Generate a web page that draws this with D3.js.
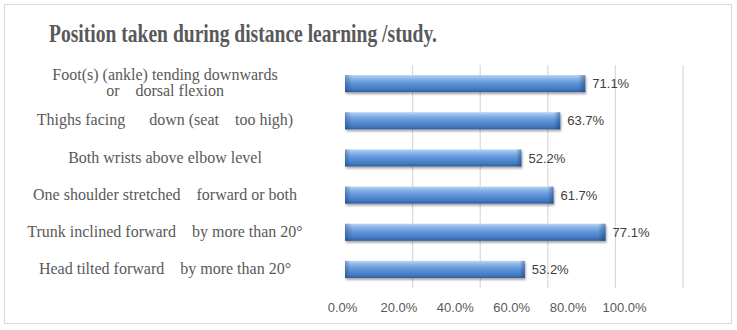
<!DOCTYPE html>
<html>
<head>
<meta charset="utf-8">
<script src="https://cdn.jsdelivr.net/npm/d3@7"></script>
<style>
  body { margin: 0; background: #fff; }
  svg { display: block; }
  .cat text { white-space: pre; }
</style>
</head>
<body>
<svg width="737" height="330"></svg>
<script>
// categories, top to bottom (second entry of a pair is the wrapped line)
const categories = [
  "Foot(s) (ankle) tending downwards\nor    dorsal flexion",
  "Thighs facing      down (seat    too high)",
  "Both wrists above elbow level",
  "One shoulder stretched    forward or both",
  "Trunk inclined forward    by more than 20°",
  "Head tilted forward    by more than 20°"
];
const values = [0.711, 0.637, 0.522, 0.617, 0.771, 0.532];
const tickValues = [0, 0.2, 0.4, 0.6, 0.8, 1.0];
const title = "Position taken during distance learning /study.";

const svg = d3.select("svg");
const fmt = d3.format(".1%");

// frame
svg.append("rect")
    .attr("x", 4.5).attr("y", 4.5)
    .attr("width", 727).attr("height", 319)
    .attr("fill", "#fff")
    .attr("stroke", "#d9d9d9");

// title
svg.append("text")
    .attr("x", 49).attr("y", 42)
    .attr("textLength", 388)
    .attr("lengthAdjust", "spacingAndGlyphs")
    .style("font-family", "'Liberation Serif', serif")
    .style("font-weight", "bold")
    .style("font-size", "25px")
    .attr("fill", "#595959")
    .text(title);

// scales
const x = d3.scaleLinear().domain([0, 1]).range([345, 683]);
const y = d3.scaleBand()
    .domain(categories)
    .range([65, 288])
    .paddingInner(0.54)
    .paddingOuter(0.27);
// tick labels sit a bit compressed under the grid in the original
const xLabel = d3.scaleLinear().domain([0, 1]).range([342, 624]);

// defs: bar gradient + shadow
const defs = svg.append("defs");
const grad = defs.append("linearGradient")
    .attr("id", "barGrad")
    .attr("x1", 0).attr("y1", 0).attr("x2", 0).attr("y2", 1);
[["0%", "#bcd6f3"], ["18%", "#8fb8ea"], ["45%", "#6398dc"], ["85%", "#4277be"], ["100%", "#2f5d9c"]]
  .forEach(([o, c]) => grad.append("stop").attr("offset", o).attr("stop-color", c));
const sgrad = defs.append("linearGradient")
    .attr("id", "endGrad")
    .attr("x1", 0).attr("y1", 0).attr("x2", 1).attr("y2", 0);
[["0%", "rgba(20,50,100,0.35)"], ["3%", "rgba(20,50,100,0)"], ["97%", "rgba(20,50,100,0)"], ["100%", "rgba(20,50,100,0.45)"]]
  .forEach(([o, c]) => sgrad.append("stop").attr("offset", o).attr("stop-color", c));
defs.append("filter")
    .attr("id", "shadow")
    .attr("x", "-5%").attr("y", "-30%").attr("width", "115%").attr("height", "180%")
  .append("feDropShadow")
    .attr("dx", 1).attr("dy", 2)
    .attr("stdDeviation", 1.2)
    .attr("flood-color", "#000")
    .attr("flood-opacity", 0.35);

// gridlines
svg.append("g")
  .selectAll("line")
  .data(tickValues.slice(1))
  .join("line")
    .attr("x1", d => x(d)).attr("x2", d => x(d))
    .attr("y1", 65).attr("y2", 288)
    .attr("stroke", "#d9d9d9")
    .attr("stroke-width", 1.2);

// bars
const bars = svg.append("g")
  .selectAll("g")
  .data(values)
  .join("g");

bars.append("rect")
    .attr("x", x(0))
    .attr("y", (d, i) => y(categories[i]))
    .attr("width", d => x(d) - x(0))
    .attr("height", y.bandwidth())
    .attr("fill", "url(#barGrad)")
    .attr("filter", "url(#shadow)");

bars.append("rect")
    .attr("x", x(0))
    .attr("y", (d, i) => y(categories[i]))
    .attr("width", d => x(d) - x(0))
    .attr("height", y.bandwidth())
    .attr("fill", "url(#endGrad)");

// value labels
bars.append("text")
    .attr("x", d => x(d) + 7)
    .attr("y", (d, i) => y(categories[i]) + y.bandwidth() / 2)
    .attr("dy", "0.36em")
    .style("font-family", "'Liberation Sans', Arial, sans-serif")
    .style("font-size", "13px")
    .attr("fill", "#404040")
    .text(d => fmt(d));

// category labels
const cat = svg.append("g").attr("class", "cat");
categories.forEach(c => {
  const lines = c.split("\n");
  const cy = y(c) + y.bandwidth() / 2;
  const t = cat.append("text")
      .attr("x", 165)
      .attr("text-anchor", "middle")
      .style("font-family", "'Liberation Serif', serif")
      .style("font-size", "16px")
      .attr("fill", "#595959");
  lines.forEach((l, k) => {
    t.append("tspan")
        .attr("x", 165)
        .attr("y", cy + (k - (lines.length - 1) / 2) * 16 - 1)
        .attr("dy", "0.35em")
        .text(l);
  });
});

// x axis labels
const axis = svg.append("g")
    .attr("transform", "translate(0,300)")
    .call(d3.axisBottom(xLabel).tickValues(tickValues).tickFormat(fmt).tickSize(0));
axis.select(".domain").remove();
axis.selectAll("text")
    .style("font-family", "'Liberation Sans', Arial, sans-serif")
    .style("font-size", "13px")
    .attr("fill", "#595959");
</script>
</body>
</html>
